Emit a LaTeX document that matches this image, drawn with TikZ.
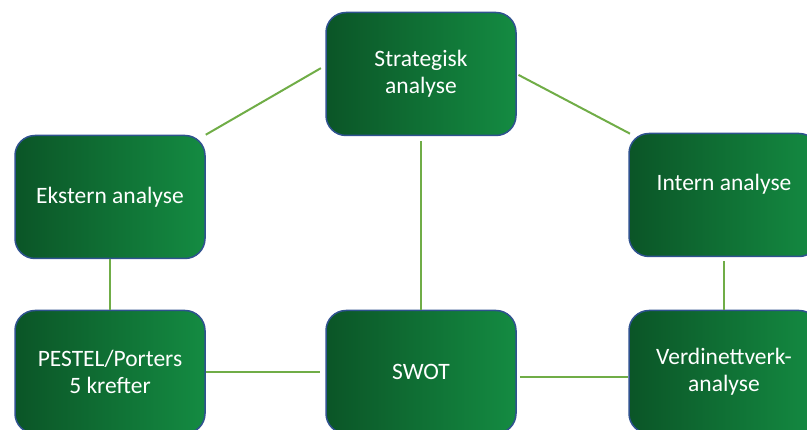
\documentclass[tikz,border=0pt]{standalone}
\usepackage{fontspec}
\setmainfont{Carlito}
\usetikzlibrary{positioning, calc}
\definecolor{boxdark}{HTML}{0B5527}
\definecolor{boxlight}{HTML}{148B42}
\definecolor{boxline}{HTML}{2F528F}
\definecolor{linkline}{HTML}{70AD47}
\tikzset{
  gbox/.style = {rectangle, rounded corners=20pt, draw=boxline, line width=1.5pt,
                 left color=boxdark, right color=boxlight, shading angle=90,
                 text=white, align=center, font=\fontsize{23.5}{27}\selectfont,
                 minimum width=190pt, minimum height=123pt, inner sep=2pt},
  link/.style = {draw=linkline, line width=2pt},
}
\begin{document}
\begin{tikzpicture}[x=1pt, y=1pt]
  \useasboundingbox (0,0) rectangle (807,-430);
  \node[gbox] (strat)  at (421,-74)  {Strategisk\\analyse};
  \node[gbox] (ekst)   at (110,-197) {Ekstern analyse};
  \node[gbox] (intern) at (724,-195) {\raisebox{26pt}{Intern analyse}};
  \node[gbox] (pestel) at (110,-372) {PESTEL/Porters\\5 krefter};
  \node[gbox] (swot)   at (421,-372) {SWOT};
  \node[gbox] (verdi)  at (724,-372) {Verdinettverk-\\analyse};
  % connectors
  \draw[link, shorten >=5pt] (ekst.north east) -- (strat.175);
  \draw[link, shorten <=2pt, shorten >=-2pt] (strat.east) -- (intern.north west);
  \draw[link, shorten <=5pt] (strat.south) -- (swot.north);
  \draw[link, shorten >=5pt] (pestel.east) -- (swot.west);
  \draw[link, shorten <=3pt] ([yshift=-5pt]swot.east) -- ([yshift=-5pt]verdi.west);
  \draw[link] (ekst.south) -- (pestel.north);
  \draw[link, shorten <=4pt] (intern.south) -- (verdi.north);
\end{tikzpicture}
\end{document}
